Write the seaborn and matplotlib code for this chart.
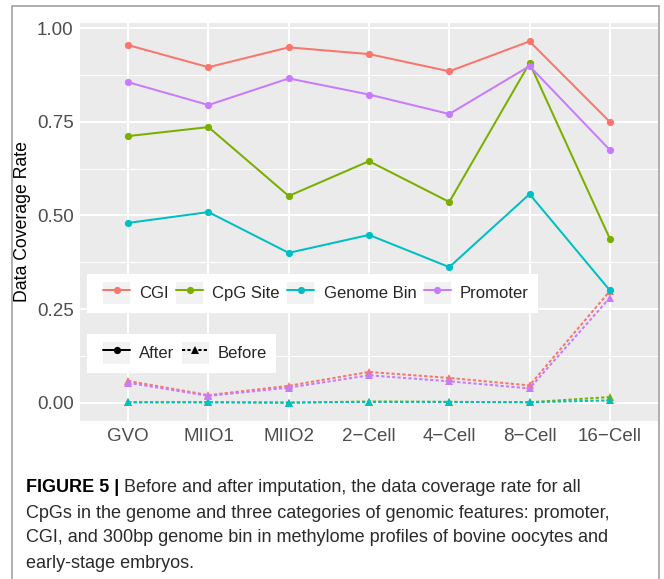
import numpy as np
import pandas as pd
import matplotlib
matplotlib.use("Agg")
import matplotlib.pyplot as plt
import seaborn as sns
from matplotlib.legend_handler import HandlerLine2D
from matplotlib.lines import Line2D
from matplotlib.patches import Rectangle

# ---- data -------------------------------------------------------------
stages = ["GVO", "MIIO1", "MIIO2", "2\u2212Cell", "4\u2212Cell", "8\u2212Cell", "16\u2212Cell"]
features = ["CGI", "CpG Site", "Genome Bin", "Promoter"]
statuses = ["After", "Before"]

after_cgi = [0.955, 0.896, 0.949, 0.931, 0.885, 0.965, 0.750]
after_cpg = [0.712, 0.736, 0.552, 0.645, 0.536, 0.907, 0.438]
after_bin = [0.480, 0.509, 0.400, 0.448, 0.362, 0.557, 0.300]
after_promoter = [0.856, 0.795, 0.866, 0.823, 0.771, 0.899, 0.675]

before_cgi = [0.058, 0.020, 0.045, 0.082, 0.066, 0.046, 0.298]
before_cpg = [0.001, 0.001, 0.000, 0.003, 0.002, 0.001, 0.015]
before_bin = [0.001, 0.001, 0.000, 0.002, 0.002, 0.001, 0.006]
before_promoter = [0.053, 0.018, 0.040, 0.073, 0.057, 0.038, 0.280]

yticks = [0.00, 0.25, 0.50, 0.75, 1.00]
ytick_labels = ["0.00", "0.25", "0.50", "0.75", "1.00"]

palette = ["#F8766D", "#7CAE00", "#00BFC4", "#C77CFF"]

series = {
    ("CGI", "After"): after_cgi, ("CGI", "Before"): before_cgi,
    ("CpG Site", "After"): after_cpg, ("CpG Site", "Before"): before_cpg,
    ("Genome Bin", "After"): after_bin, ("Genome Bin", "Before"): before_bin,
    ("Promoter", "After"): after_promoter, ("Promoter", "Before"): before_promoter,
}
rows = []
for (feat, stat), vals in series.items():
    for st, v in zip(stages, vals):
        rows.append({"stage": st, "feature": feat, "status": stat, "value": v})
df = pd.DataFrame(rows)

# ---- style ------------------------------------------------------------
sns.set_theme(style="darkgrid")
plt.rcParams["font.family"] = ["Liberation Sans", "DejaVu Sans"]
plt.rcParams["axes.facecolor"] = "#EBEBEB"

W, H = 664, 579
fig = plt.figure(figsize=(W / 100, H / 100), dpi=100)
fig.patch.set_facecolor("white")

ax_left, ax_right, ax_top, ax_bottom = 80, 658, 23.3, 420.7
ax = fig.add_axes([ax_left / W, 1 - ax_bottom / H,
                   (ax_right - ax_left) / W, (ax_bottom - ax_top) / H])

sns.lineplot(
    data=df, x="stage", y="value", hue="feature", style="status",
    hue_order=features, style_order=statuses, palette=palette,
    markers={"After": "o", "Before": "^"},
    dashes={"After": "", "Before": (1.6, 1.1)},
    sort=False, legend=False, errorbar=None,
    linewidth=1.45, markersize=5.2, markeredgewidth=0, ax=ax,
)

# ggplot-like expansion of the scales
vals_all = df["value"].to_numpy()
lo, hi = vals_all.min(), vals_all.max()
pad = 0.05 * (hi - lo)
ax.set_ylim(lo - pad, hi + pad)
ax.set_xlim(-0.6, len(stages) - 1 + 0.6)

ax.set_yticks(yticks)
ax.set_yticklabels(ytick_labels)
ax.set_yticks([0.125, 0.375, 0.625, 0.875], minor=True)
ax.grid(which="major", color="white", linewidth=1.45)
ax.grid(which="minor", color="white", linewidth=0.7)
ax.set_axisbelow(True)
for s in ax.spines.values():
    s.set_visible(False)

ax.tick_params(axis="both", which="major", length=3, width=1.0, color="#333333",
               labelcolor="#4D4D4D", labelsize=13.5)
ax.tick_params(axis="y", which="major", pad=1.5)
ax.tick_params(axis="x", which="major", pad=2.5)
ax.tick_params(which="minor", length=0)

ax.set_xlabel("")
ax.set_ylabel("Data Coverage Rate", fontsize=12.7, color="black")
ax.yaxis.label.set_verticalalignment("center")
ax.yaxis.set_label_coords((23 - ax_left) / (ax_right - ax_left), 0.5)


# ---- legends with shaded key boxes -----------------------------------
class KeyHandler(HandlerLine2D):
    def create_artists(self, legend, orig_handle, xdescent, ydescent,
                       width, height, fontsize, trans):
        arts = super().create_artists(legend, orig_handle, xdescent, ydescent,
                                      width, height, fontsize, trans)
        bg = Rectangle((-xdescent, -ydescent), width, height,
                       facecolor="#F2F2F2", edgecolor="none", transform=trans)
        return [bg] + list(arts)


leg_kw = dict(loc="upper left", frameon=False, borderpad=0, borderaxespad=0,
              fontsize=12, handlelength=1.62, handleheight=1.62,
              handletextpad=0.55, columnspacing=0.45,
              handler_map={Line2D: KeyHandler()}, bbox_transform=fig.transFigure)

feat_handles = [Line2D([], [], color=c, marker="o", markersize=5.2, lw=1.45,
                       markeredgewidth=0) for c in palette]
leg1 = fig.legend(feat_handles, features, ncol=4,
                  bbox_to_anchor=(103 / W, 1 - 282 / H), **leg_kw)

stat_handles = [
    Line2D([], [], color="black", marker="o", markersize=5.2, lw=1.45, markeredgewidth=0),
    Line2D([], [], color="black", marker="^", markersize=5.2, lw=1.45, markeredgewidth=0,
           dashes=(1.6, 1.1)),
]
leg2 = fig.legend(stat_handles, statuses, ncol=2,
                  bbox_to_anchor=(103 / W, 1 - 342 / H), **leg_kw)

fig.canvas.draw()
renderer = fig.canvas.get_renderer()
for leg in (leg1, leg2):
    bb = leg.get_window_extent(renderer)
    x0, y0 = bb.x0 - 16, bb.y0 - 9
    w, h = bb.width + 25, bb.height + 17
    fig.add_artist(Rectangle((x0 / W, y0 / H), w / W, h / H,
                             transform=fig.transFigure, facecolor="white",
                             edgecolor="none", zorder=2))

# ---- figure frame and caption ----------------------------------------
fig.add_artist(Rectangle((11.5 / W, -0.05), (659 - 11.5) / W, (H - 6) / H + 0.05,
                         transform=fig.transFigure, fill=False,
                         edgecolor="#9A9A9A", linewidth=1.1, zorder=1, clip_on=False))

cap_fs = 13.0
cap_x = 26 / W
lines = [
    " Before and after imputation, the data coverage rate for all",
    "CpGs in the genome and three categories of genomic features: promoter,",
    "CGI, and 300bp genome bin in methylome profiles of bovine oocytes and",
    "early-stage embryos.",
]
line_y = [488, 513, 538, 563]
head = fig.text(cap_x, 1 - line_y[0] / H, "FIGURE 5 |", fontsize=cap_fs,
                fontweight="bold", va="center", ha="left", color="black")
fig.canvas.draw()
hb = head.get_window_extent(fig.canvas.get_renderer())
fig.text(hb.x1 / W, 1 - line_y[0] / H, lines[0], fontsize=cap_fs,
         va="center", ha="left", color="#2A2A2A")
for txt, yy in zip(lines[1:], line_y[1:]):
    fig.text(cap_x, 1 - yy / H, txt, fontsize=cap_fs, va="center", ha="left",
             color="#2A2A2A")

fig.savefig("out.png", dpi=100)
